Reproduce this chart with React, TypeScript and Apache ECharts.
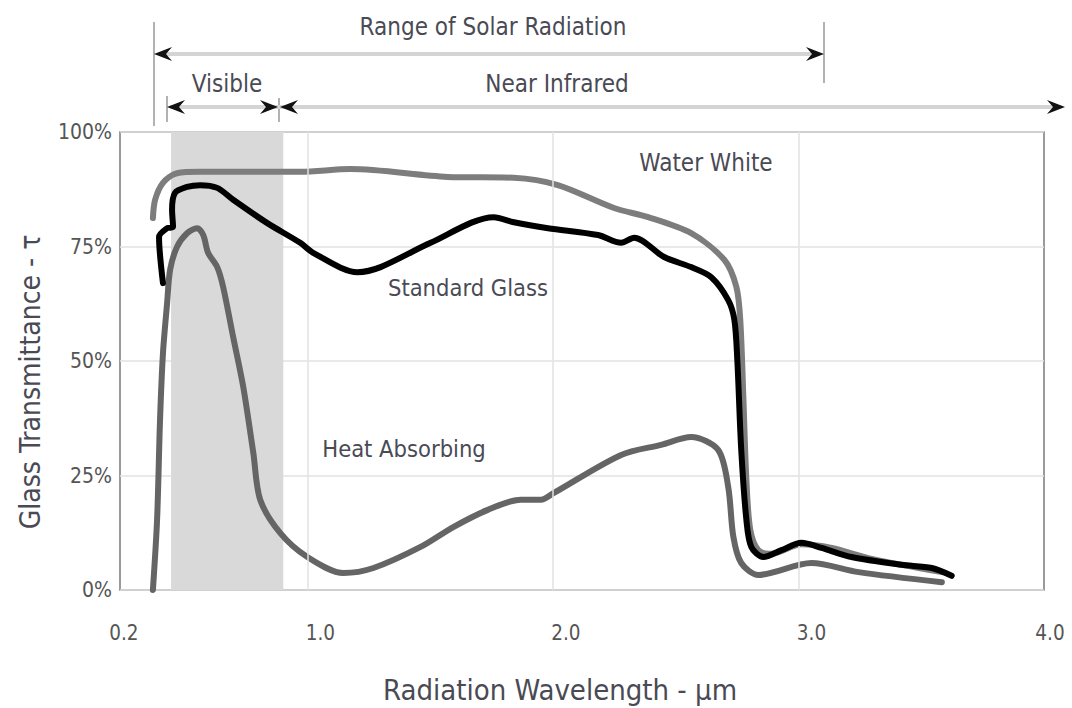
import React, { useEffect, useRef } from "react";
import * as echarts from "echarts";

// ---- data ----
const xTickValues = [0.2, 1, 2, 3, 4];
const xTickLabels = ["0.2", "1.0", "2.0", "3.0", "4.0"];
const yTickValues = [0, 25, 50, 75, 100];

const waterWhite: [number, number][] = [
  [0.371, 81.2], [0.38, 85.2], [0.412, 88.9], [0.469, 91.0], [0.563, 91.3],
  [0.971, 91.3], [1.176, 91.9], [1.571, 90.2], [1.841, 90.0], [2.02, 88.4],
  [2.249, 83.4], [2.388, 81.4], [2.563, 77.9], [2.698, 72.1], [2.747, 66.2],
  [2.763, 59.0], [2.776, 41.5], [2.788, 24.0], [2.804, 13.1], [2.837, 8.7],
  [2.89, 7.9], [3.012, 10.0], [3.135, 9.2], [3.298, 6.8], [3.584, 3.9],
];

const standardGlass: [number, number][] = [
  [0.412, 67.0], [0.396, 77.1], [0.429, 79.0], [0.453, 79.3], [0.449, 83.0],
  [0.461, 86.7], [0.51, 88.0], [0.563, 88.4], [0.633, 87.8], [0.698, 85.2],
  [0.837, 80.1], [0.971, 75.8], [1.024, 73.6], [1.204, 69.4], [1.298, 70.5],
  [1.502, 75.8], [1.759, 81.4], [1.841, 80.3], [1.98, 79.0], [2.184, 77.5],
  [2.278, 75.8], [2.331, 76.9], [2.453, 72.7], [2.563, 70.5], [2.645, 68.3],
  [2.714, 63.3], [2.739, 59.0], [2.751, 50.2], [2.767, 30.6], [2.788, 15.3],
  [2.808, 9.4], [2.857, 7.2], [2.931, 8.7], [3.012, 10.3], [3.094, 9.2],
  [3.216, 7.2], [3.42, 5.5], [3.543, 4.8], [3.624, 3.1],
];

const heatAbsorbing: [number, number][] = [
  [0.371, 0], [0.388, 15.3], [0.4, 37.1], [0.412, 51.7], [0.429, 62.7],
  [0.441, 69.9], [0.469, 74.9], [0.51, 77.9], [0.551, 79.0], [0.576, 77.5],
  [0.596, 73.6], [0.633, 70.5], [0.657, 66.2], [0.698, 55.2], [0.739, 44.3],
  [0.78, 29.9], [0.808, 19.7], [0.89, 12.4], [1.0, 7.2], [1.147, 3.7],
  [1.269, 4.8], [1.461, 9.4], [1.596, 13.8], [1.735, 17.5], [1.869, 19.7],
  [1.951, 19.7], [2.004, 21.2], [2.278, 29.5], [2.441, 31.7], [2.563, 33.4],
  [2.673, 30.6], [2.714, 22.5], [2.735, 11.6], [2.767, 5.9], [2.837, 3.3],
  [3.053, 5.9], [3.245, 3.9], [3.584, 1.7],
];

const visibleBand = [0.445, 0.902];

const seriesNames = ["Water White", "Standard Glass", "Heat Absorbing"];

// ---- styling ----
const FONT =
  "'Liberation Sans Narrow', 'DejaVu Sans Condensed', 'Roboto Condensed', 'Arial Narrow', 'Liberation Sans', sans-serif";
const TEXT_COLOR = "#4a4a55";
const X_MIN = 0.237;

function arrowHead(tipX: number, y: number, dir: number, len = 18, half = 7) {
  return {
    type: "polygon",
    shape: {
      points: [
        [tipX, y],
        [tipX + dir * len, y - half],
        [tipX + dir * (len - 6), y],
        [tipX + dir * len, y + half],
      ],
    },
    style: { fill: "#111" },
  };
}

function hLine(x1: number, x2: number, y: number) {
  return {
    type: "line",
    shape: { x1, y1: y, x2, y2: y },
    style: { stroke: "#d4d4d4", lineWidth: 4 },
  };
}

function vLine(x: number, y1: number, y2: number) {
  return {
    type: "line",
    shape: { x1: x, y1, x2: x, y2 },
    style: { stroke: "#999", lineWidth: 1.5 },
  };
}

function label(
  text: string,
  x: number,
  y: number,
  size = 23,
  rotation = 0,
  align = "center",
  fill = TEXT_COLOR
) {
  return {
    type: "text",
    x,
    y,
    rotation,
    style: {
      text,
      fill,
      font: `${size}px ${FONT}`,
      align,
      verticalAlign: "middle",
    },
  };
}

export default function App() {
  const ref = useRef<HTMLDivElement>(null);

  useEffect(() => {
    if (!ref.current) return;
    const chart = echarts.init(ref.current, undefined, { renderer: "svg" });

    const lineStyleBase = { cap: "round", join: "round" };

    chart.setOption({
      animation: false,
      backgroundColor: "#fff",
      grid: {
        left: 120,
        top: 132,
        right: 28,
        bottom: 118,
        show: true,
        borderColor: "#7a7a7a",
        borderWidth: 1.5,
        backgroundColor: "transparent",
      },
      xAxis: {
        type: "value",
        min: X_MIN,
        max: 4,
        axisLine: { show: false },
        axisTick: { show: false },
        splitLine: { show: false },
        axisLabel: { show: false },
      },
      yAxis: {
        type: "value",
        min: 0,
        max: 100,
        interval: 25,
        axisLine: { show: false },
        axisTick: { show: false },
        splitLine: { show: true, lineStyle: { color: "#e2e2e2", width: 1.5 } },
        axisLabel: {
          formatter: (v: number) => (yTickValues.includes(v) ? `${v}%` : ""),
          margin: 8,
          fontSize: 21,
          color: "#555",
          fontFamily: FONT,
        },
      },
      series: [
        {
          name: "band",
          type: "line",
          data: [],
          z: 1,
          silent: true,
          markArea: {
            silent: true,
            itemStyle: { color: "#d9d9d9" },
            data: [[{ xAxis: visibleBand[0] }, { xAxis: visibleBand[1] }]],
          },
          markLine: {
            silent: true,
            symbol: "none",
            label: { show: false },
            lineStyle: { color: "#e2e2e2", width: 1.5, type: "solid" },
            data: xTickValues.slice(1, 4).map((v) => ({ xAxis: v })),
          },
        },
        {
          name: seriesNames[0],
          type: "line",
          data: waterWhite,
          smooth: 0.3,
          symbol: "none",
          z: 3,
          lineStyle: { ...lineStyleBase, color: "#7d7d7d", width: 6 },
        },
        {
          name: seriesNames[2],
          type: "line",
          data: heatAbsorbing,
          smooth: 0.3,
          symbol: "none",
          z: 4,
          lineStyle: { ...lineStyleBase, color: "#656565", width: 6 },
        },
        {
          name: seriesNames[1],
          type: "line",
          data: standardGlass,
          smooth: 0.3,
          symbol: "none",
          z: 5,
          lineStyle: { ...lineStyleBase, color: "#000", width: 6 },
        },
      ],
    });

    // x tick labels placed through the axis scale
    const gridBottom = chart.convertToPixel({ yAxisIndex: 0 }, 0) as number;
    const tickLabels = xTickValues.map((v, i) => {
      const px = chart.convertToPixel({ xAxisIndex: 0 }, v) as number;
      const cx = Math.min(px + 13, 1050);
      return label(xTickLabels[i], cx, gridBottom + 43, 20.5, 0, "center", "#555");
    });

    chart.setOption({
      graphic: [
        // Range of solar radiation
        vLine(154, 22, 126),
        vLine(824, 22, 83),
        hLine(160, 818, 54),
        arrowHead(154, 54, 1),
        arrowHead(824, 54, -1),
        label("Range of Solar Radiation", 493, 27, 24),
        // Visible / Near infrared
        vLine(167, 96, 122),
        vLine(279, 98, 122),
        hLine(170, 1060, 107),
        arrowHead(167, 107, 1),
        arrowHead(278, 107, -1),
        arrowHead(280, 107, 1),
        arrowHead(1065, 107, -1),
        label("Visible", 227, 84, 24),
        label("Near Infrared", 557, 84, 24),
        // series labels
        label(seriesNames[0], 706, 163, 24),
        label(seriesNames[1], 468, 288, 23.5),
        label(seriesNames[2], 404, 449, 23.5),
        // axis titles
        label("Glass Transmittance - τ", 30, 382, 28, Math.PI / 2),
        label("Radiation Wavelength - µm", 560, 690, 29),
        ...tickLabels,
      ],
    });

    return () => chart.dispose();
  }, []);

  return (
    <div
      ref={ref}
      style={{ position: "absolute", left: 0, top: 0, width: 1072, height: 708 }}
    />
  );
}
